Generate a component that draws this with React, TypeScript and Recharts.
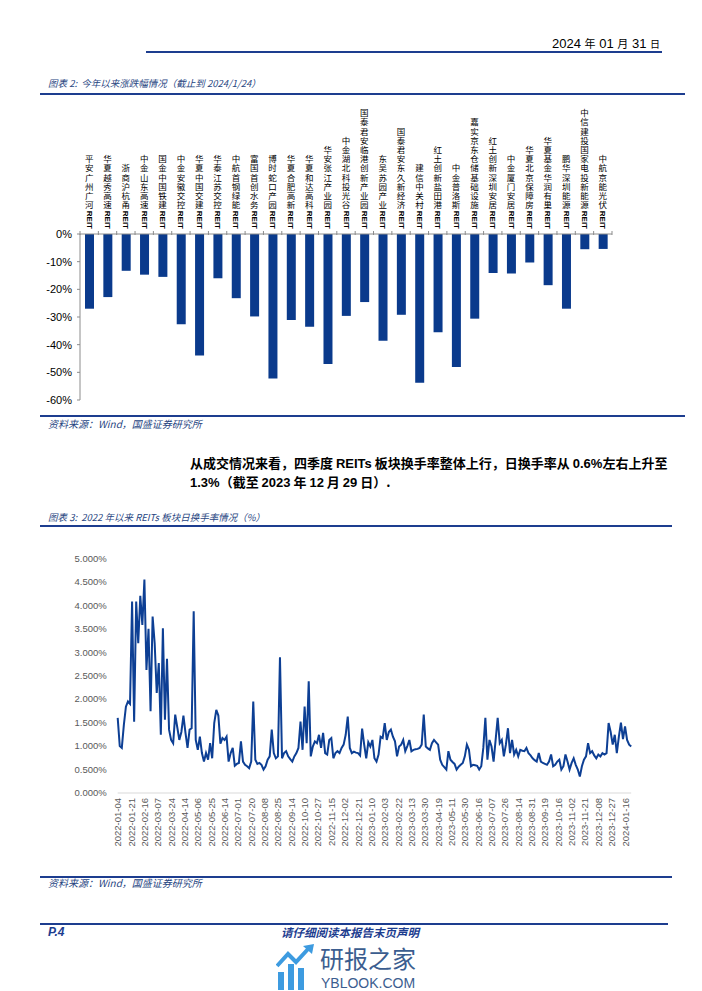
import React from 'react';
import { BarChart, Bar, XAxis, YAxis, LineChart, Line } from 'recharts';

// 图表2：今年以来涨跌幅（%）
const reitNames = [
  '平安广州广河', '华夏越秀高速', '浙商沪杭甬', '中金山东高速', '国金中国铁建', '中金安徽交控',
  '华夏中国交建', '华泰江苏交控', '中航首钢绿能', '富国首创水务', '博时蛇口产园', '华夏合肥高新',
  '华夏和达高科', '华安张江产业园', '中金湖北科投光谷', '国泰君安临港创新产业园', '东吴苏园产业',
  '国泰君安东久新经济', '建信中关村', '红土创新盐田港', '中金普洛斯', '嘉实京东仓储基础设施',
  '红土创新深圳安居', '中金厦门安居', '华夏北京保障房', '华夏基金华润有巢', '鹏华深圳能源',
  '中信建投国家电投新能源', '中航京能光伏',
];
const ytdChange = [
  -27.0, -22.8, -13.3, -14.7, -15.5, -32.6, -43.9, -16.0, -23.2, -29.8, -52.2, -31.1, -33.5, -47.0,
  -29.6, -24.6, -38.6, -29.2, -53.8, -35.5, -48.1, -30.6, -14.1, -14.3, -10.3, -18.5, -27.0, -5.5, -5.4,
];
const ytdTicks = [-60, -50, -40, -30, -20, -10, 0];

// 图表3：REITs 板块日换手率（%），每两个交易日取一个值，自 2022-01-04 起
const turnover = [
  1.60, 1.00, 0.96, 1.45, 1.84, 1.95, 1.90, 4.08, 1.52, 4.08,
  3.19, 4.20, 3.58, 4.55, 2.62, 3.50, 1.74, 3.76, 3.19, 2.13,
  2.77, 1.24, 3.51, 1.56, 2.86, 1.35, 1.13, 1.06, 1.67, 1.40, 1.13,
  1.30, 1.65, 1.28, 0.96, 1.35, 1.38, 3.87, 1.13, 0.92, 1.20,
  0.85, 0.67, 0.85, 0.71, 1.06, 0.74, 1.49, 1.77, 1.65, 1.05,
  1.17, 1.13, 1.20, 0.67, 0.85, 0.96, 0.58, 0.62, 0.64, 1.10, 0.67,
  0.60, 0.57, 0.53, 0.67, 1.95, 0.71, 0.62, 0.64, 0.60, 0.50,
  0.57, 0.71, 0.78, 1.35, 0.85, 0.74, 0.78, 2.89, 0.74, 0.85,
  0.89, 0.78, 0.72, 0.67, 0.78, 0.85, 0.96, 1.52, 0.92, 1.84, 1.06,
  2.38, 0.78, 0.99, 1.10, 1.06, 1.24, 0.96, 1.28, 0.85, 0.82,
  1.13, 1.17, 0.74, 0.85, 0.89, 0.85, 0.96, 1.03, 1.24, 1.63,
  0.96, 0.85, 0.88, 0.86, 0.85, 0.80, 1.37, 1.03, 0.74, 1.08, 0.99,
  1.13, 0.74, 0.67, 0.82, 1.20, 1.17, 1.49, 1.13, 1.30, 1.35,
  1.20, 1.10, 0.78, 0.99, 1.03, 1.13, 0.89, 1.00, 1.13, 0.89,
  0.92, 0.93, 0.94, 0.96, 1.03, 1.67, 0.99, 0.95, 0.92, 1.06, 1.13,
  1.08, 1.03, 0.71, 0.60, 0.55, 0.50, 0.89, 0.71, 0.66, 0.62,
  0.50, 0.56, 0.60, 0.64, 0.78, 1.03, 0.92, 0.57, 0.60, 0.59, 0.58,
  0.50, 0.57, 0.96, 1.60, 0.71, 1.13, 0.99, 0.67, 1.13, 1.60,
  1.06, 1.13, 0.78, 1.03, 1.38, 0.85, 1.13, 0.82, 0.92, 0.78,
  0.92, 0.90, 0.89, 0.96, 0.85, 0.80, 0.74, 0.70, 0.67, 0.85, 0.67,
  0.64, 0.62, 0.60, 0.67, 0.82, 0.57, 0.60, 0.67, 0.71, 0.50,
  0.57, 0.82, 0.67, 0.50, 0.64, 0.74, 0.60, 0.50, 0.35, 0.57,
  0.71, 0.78, 1.06, 0.85, 0.89, 0.80, 0.74, 0.82, 0.78, 0.85, 0.82,
  0.85, 1.49, 1.30, 1.03, 1.24, 0.85, 1.20, 1.50, 1.15, 1.42,
  1.13, 1.03, 0.99,
];
const dateLabels = [
  '2022-01-04', '2022-01-21', '2022-02-16', '2022-03-07', '2022-03-24', '2022-04-14', '2022-05-06',
  '2022-05-25', '2022-06-14', '2022-07-01', '2022-07-20', '2022-08-08', '2022-08-25', '2022-09-14',
  '2022-10-10', '2022-10-27', '2022-11-15', '2022-12-02', '2022-12-21', '2023-01-10', '2023-02-03',
  '2023-02-22', '2023-03-13', '2023-03-30', '2023-04-19', '2023-05-11', '2023-05-30', '2023-06-16',
  '2023-07-07', '2023-07-26', '2023-08-14', '2023-08-31', '2023-09-19', '2023-10-16', '2023-11-02',
  '2023-11-21', '2023-12-08', '2023-12-27', '2024-01-16',
];
const turnoverTicks = [0, 0.5, 1, 1.5, 2, 2.5, 3, 3.5, 4, 4.5, 5];

const navy = '#1d3d8f';
const titleBlue = '#27457f';
const barBlue = '#0a3a8c';
const cjk = '"Noto Sans CJK SC", "Liberation Sans", sans-serif';
const latin = '"Liberation Sans", Arial, sans-serif';

const barData = reitNames.map((name, i) => ({ name, v: ytdChange[i] }));
const lineData = turnover.map((v, i) => ({ d: i * 2, v }));
const dateTicks = dateLabels.map((_, i) => i * 13);

const BAND = 532 / reitNames.length;
const PITCH = 9.2;
const REIT_LEN = 18.5;

// 竖排名称：每个汉字单独直立排列，底部为竖排的 REIT
const NameTick = (props: any) => {
  const { x, y, payload, index } = props;
  const chars: string[] = String(payload.value).split('');
  const bottom = y - 5;
  const charsEnd = bottom - REIT_LEN - 1;
  return (
    <g>
      <line x1={x - BAND / 2} x2={x - BAND / 2} y1={y + 1} y2={y - 3} stroke="#8c8c8c" />
      {index === reitNames.length - 1 && (
        <line x1={x + BAND / 2} x2={x + BAND / 2} y1={y + 1} y2={y - 3} stroke="#8c8c8c" />
      )}
      {chars.map((c, i) => (
        <text
          key={i}
          x={x}
          y={charsEnd - (chars.length - i) * PITCH + 0.4}
          style={{ writingMode: 'vertical-rl' }}
          fontSize={8.5}
          fontFamily={cjk}
          fill="#000"
        >
          {c}
        </text>
      ))}
      <text
        x={x}
        y={bottom}
        textAnchor="end"
        style={{ writingMode: 'vertical-rl' }}
        fontSize={8}
        fontWeight="bold"
        fontFamily={latin}
        fill="#000"
      >
        REIT
      </text>
    </g>
  );
};

const DateTick = (props: any) => {
  const { x, y, payload } = props;
  const label = dateLabels[Math.round(payload.value / 13)];
  return (
    <text
      x={x}
      y={y}
      transform={`rotate(-90 ${x} ${y})`}
      textAnchor="end"
      dominantBaseline="central"
      fontSize={9.5}
      fontFamily={latin}
      fill="#595959"
    >
      {label}
    </text>
  );
};

const Rule = ({ top, left, right, h = 1.5 }: { top: number; left: number; right: number; h?: number }) => (
  <div style={{ position: 'absolute', top, left, width: right - left, height: h, background: navy }} />
);

const abs = (top: number, left: number, extra: React.CSSProperties = {}): React.CSSProperties => ({
  position: 'absolute',
  top,
  left,
  whiteSpace: 'nowrap',
  ...extra,
});

export default function App() {
  return (
    <div
      style={{
        position: 'absolute',
        left: 0,
        top: 0,
        width: 702,
        height: 991,
        background: '#fff',
        overflow: 'hidden',
        fontFamily: cjk,
      }}
    >
      {/* 页眉 */}
      <div style={{ position: 'absolute', top: 35, right: 42, lineHeight: '16px', fontSize: 13, fontFamily: latin }}>
        2024 <span style={{ fontFamily: cjk, fontSize: 11 }}>年</span> 01{' '}
        <span style={{ fontFamily: cjk, fontSize: 11 }}>月</span> 31{' '}
        <span style={{ fontFamily: cjk, fontSize: 10 }}>日</span>
      </div>
      <Rule top={51} left={146} right={662} h={2} />

      {/* 图表 2 */}
      <div style={abs(76, 48, { fontSize: 9.5, lineHeight: '14px', fontStyle: 'italic', color: titleBlue })}>
        图表 2:&nbsp; 今年以来涨跌幅情况（截止到 2024/1/24）
      </div>
      <Rule top={93} left={40} right={685} />

      <div style={{ position: 'absolute', left: 0, top: 95 }}>
        <BarChart width={702} height={320} data={barData} margin={{ top: 9, right: 90, bottom: 15, left: 0 }}>
          <XAxis
            dataKey="name"
            orientation="top"
            interval={0}
            height={130}
            tickLine={false}
            tickSize={0}
            tickMargin={0}
            axisLine={{ stroke: '#8c8c8c' }}
            tick={(p: any) => <NameTick {...p} />}
          />
          <YAxis
            width={80}
            domain={[-60, 0]}
            ticks={ytdTicks}
            interval={0}
            tickFormatter={(v: number) => `${v}%`}
            axisLine={{ stroke: '#8c8c8c' }}
            tickLine={{ stroke: '#8c8c8c' }}
            tickSize={3}
            tickMargin={5}
            tick={{ fontSize: 11, fill: '#000', fontFamily: latin }}
          />
          <Bar dataKey="v" fill={barBlue} barSize={9} isAnimationActive={false} />
        </BarChart>
      </div>

      <Rule top={415} left={40} right={685} />
      <div style={abs(417, 48, { fontSize: 10, lineHeight: '13px', fontStyle: 'italic', color: titleBlue })}>
        资料来源：Wind，国盛证券研究所
      </div>

      {/* 正文 */}
      <div
        style={{
          position: 'absolute',
          top: 455,
          left: 190,
          width: 472,
          fontSize: 13,
          lineHeight: '16px',
          fontWeight: 700,
          color: '#000',
          textAlign: 'justify',
          textAlignLast: 'justify',
          whiteSpace: 'nowrap',
        }}
      >
        从成交情况来看，四季度 <span style={{ fontFamily: latin }}>REITs</span> 板块换手率整体上行，日换手率从{' '}
        <span style={{ fontFamily: latin }}>0.6%</span>左右上升至
      </div>
      <div style={abs(474, 190, { fontSize: 13, lineHeight: '16px', fontWeight: 700, color: '#000' })}>
        <span style={{ fontFamily: latin }}>1.3%</span>（截至 <span style={{ fontFamily: latin }}>2023</span> 年{' '}
        <span style={{ fontFamily: latin }}>12</span> 月 <span style={{ fontFamily: latin }}>29</span> 日）.
      </div>

      {/* 图表 3 */}
      <div style={abs(510, 48, { fontSize: 9.5, lineHeight: '14px', fontStyle: 'italic', color: titleBlue })}>
        图表 3:&nbsp; 2022 年以来 REITs 板块日换手率情况（%）
      </div>
      <Rule top={525} left={40} right={672} />

      <div style={{ position: 'absolute', left: 0, top: 540 }}>
        <LineChart width={702} height={325} data={lineData} margin={{ top: 18.3, right: 70.8, bottom: 2, left: 0 }}>
          <XAxis
            type="number"
            dataKey="d"
            domain={[0, 500]}
            ticks={dateTicks}
            interval={0}
            height={70}
            tickLine={false}
            tickSize={0}
            tickMargin={5}
            axisLine={{ stroke: '#d9d9d9' }}
            tick={(p: any) => <DateTick {...p} />}
          />
          <YAxis
            width={117.7}
            domain={[0, 5]}
            ticks={turnoverTicks}
            interval={0}
            tickFormatter={(v: number) => `${v.toFixed(3)}%`}
            axisLine={false}
            tickLine={false}
            tickSize={0}
            tickMargin={11}
            tick={{ fontSize: 9.5, fill: '#595959', fontFamily: latin }}
          />
          <Line type="linear" dataKey="v" stroke="#0d3f94" strokeWidth={2} dot={false} isAnimationActive={false} />
        </LineChart>
      </div>

      <Rule top={876} left={40} right={672} />
      <div style={abs(876, 48, { fontSize: 10, lineHeight: '13px', fontStyle: 'italic', color: titleBlue })}>
        资料来源：Wind，国盛证券研究所
      </div>

      {/* 页脚 */}
      <Rule top={923} left={40} right={668} />
      <div style={abs(925, 48, { fontSize: 12, lineHeight: '15px', fontWeight: 700, fontStyle: 'italic', color: navy, fontFamily: latin })}>
        P.4
      </div>
      <div style={abs(925, 281, { fontSize: 11.5, lineHeight: '15px', fontWeight: 700, fontStyle: 'italic', color: navy })}>
        请仔细阅读本报告末页声明
      </div>

      {/* 水印 */}
      <svg style={{ position: 'absolute', left: 276, top: 944 }} width={40} height={47}>
        <rect x={2} y={28} width={6} height={18} fill="#3d9be0" />
        <rect x={12} y={20} width={6} height={26} fill="#3d9be0" />
        <rect x={22} y={24} width={6} height={22} fill="#3d9be0" />
        <polyline points="1,22 12,10 20,18 33,4" fill="none" stroke="#3d9be0" strokeWidth={4} />
        <polygon points="27,2 38,0 36,10" fill="#3d9be0" />
      </svg>
      <div style={abs(944, 320, { fontSize: 24, lineHeight: '28px', color: '#3b5d8f' })}>研报之家</div>
      <div style={abs(975, 321, { fontSize: 14, lineHeight: '16px', color: '#3b5d8f', fontFamily: latin })}>
        YBLOOK.COM
      </div>
    </div>
  );
}
